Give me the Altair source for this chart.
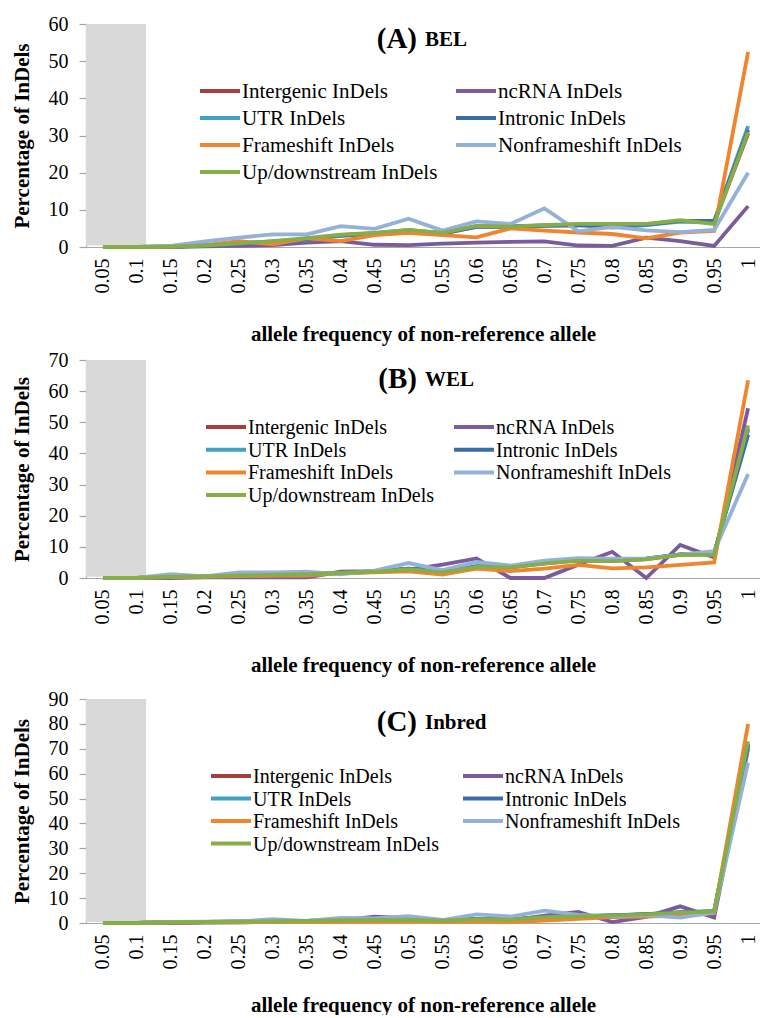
import altair as alt
import pandas as pd

freq_labels = ["0.05", "0.1", "0.15", "0.2", "0.25", "0.3", "0.35", "0.4", "0.45", "0.5",
               "0.55", "0.6", "0.65", "0.7", "0.75", "0.8", "0.85", "0.9", "0.95", "1"]
series_names = ["Intergenic InDels", "ncRNA InDels", "UTR InDels", "Intronic InDels",
                "Frameshift InDels", "Nonframeshift InDels", "Up/downstream InDels"]
series_colors = ["#A5403D", "#7A5C9E", "#41A3BF", "#3B6DA8", "#F0852E", "#93B1D9", "#86AE48"]

# ---- (A) BEL ----
bel_intergenic = [0, 0, 0.1, 0.4, 0.9, 1.5, 2.2, 3.2, 3.7, 4.5, 3.7, 5.6, 5.4, 5.8, 6.0, 6.0, 6.1, 7.0, 6.6, 30.5]
bel_ncrna = [0, 0, 0, 0.2, 0.3, 0.5, 1.2, 1.6, 0.6, 0.5, 0.9, 1.2, 1.4, 1.5, 0.4, 0.3, 2.5, 1.6, 0.3, 11]
bel_utr = [0, 0, 0.1, 0.4, 0.9, 1.4, 2.0, 3.0, 3.5, 4.3, 3.6, 5.5, 5.6, 5.8, 5.9, 5.2, 5.9, 6.8, 6.9, 32.5]
bel_intronic = [0, 0, 0.1, 0.4, 0.9, 1.4, 2.1, 3.1, 3.6, 4.4, 3.6, 5.4, 5.5, 5.7, 5.8, 5.8, 6.0, 7.0, 7.0, 31.5]
bel_frameshift = [0, 0, 0.1, 0.5, 1.6, 0.7, 2.4, 1.6, 3.2, 3.8, 3.2, 2.6, 5.0, 4.4, 3.9, 3.5, 2.3, 3.9, 4.3, 52.5]
bel_nonframeshift = [0, 0, 0.3, 1.5, 2.5, 3.4, 3.4, 5.6, 4.9, 7.6, 4.4, 6.9, 6.2, 10.4, 4.2, 5.4, 4.5, 4.0, 4.6, 20]
bel_updown = [0, 0, 0.1, 0.4, 1.0, 1.6, 2.4, 3.3, 3.8, 4.6, 3.8, 5.7, 5.5, 5.9, 6.2, 6.2, 6.2, 7.2, 6.2, 31]

# ---- (B) WEL ----
wel_intergenic = [0, 0, 0.4, 0.5, 0.8, 1.0, 1.2, 1.6, 2.0, 2.9, 1.9, 3.6, 3.4, 4.7, 5.7, 5.5, 6.1, 7.5, 7.6, 48]
wel_ncrna = [0, 0, 0, 0.2, 0.2, 0.2, 0.2, 2.0, 2.2, 2.7, 4.3, 6.3, 0, 0, 4.3, 8.4, 0, 10.6, 6.6, 54.5]
wel_utr = [0, 0, 0.4, 0.5, 0.8, 1.0, 1.2, 1.6, 2.1, 3.0, 2.0, 3.8, 3.5, 4.8, 5.8, 5.6, 6.2, 7.6, 7.8, 47.5]
wel_intronic = [0, 0, 0.4, 0.5, 0.8, 1.0, 1.3, 1.7, 2.1, 3.0, 2.0, 3.7, 3.6, 4.9, 5.9, 5.7, 6.2, 7.6, 8.0, 46]
wel_frameshift = [0, 0, 0.3, 0.4, 0.6, 0.7, 0.8, 1.6, 1.8, 2.1, 1.1, 3.0, 2.2, 3.0, 4.2, 3.1, 3.4, 4.2, 5.0, 63.5]
wel_nonframeshift = [0, 0, 1.2, 0.5, 1.8, 1.8, 2.0, 1.2, 2.4, 4.8, 2.5, 5.2, 4.0, 5.6, 6.4, 6.2, 6.2, 7.5, 8.6, 33.4]
wel_updown = [0, 0, 0.4, 0.5, 0.8, 1.0, 1.2, 1.6, 2.0, 2.8, 1.8, 3.6, 3.4, 4.6, 5.6, 5.4, 6.0, 7.4, 7.4, 49]

# ---- (C) Inbred ----
inb_intergenic = [0, 0, 0.3, 0.4, 0.5, 0.7, 0.8, 1.1, 1.2, 1.3, 0.9, 1.5, 1.3, 2.4, 2.7, 3.0, 3.5, 4.2, 4.6, 72]
inb_ncrna = [0, 0, 0, 0.2, 0.3, 0.4, 0.5, 1.0, 2.5, 2.0, 0.8, 1.5, 1.0, 3.0, 4.4, 0.4, 2.5, 6.7, 2.2, 70]
inb_utr = [0, 0, 0.3, 0.4, 0.5, 0.7, 0.8, 1.1, 1.2, 1.4, 1.0, 1.6, 1.4, 2.5, 2.8, 3.1, 3.6, 4.3, 4.8, 71]
inb_intronic = [0, 0, 0.3, 0.4, 0.5, 0.7, 0.8, 1.1, 1.2, 1.4, 1.0, 1.6, 1.4, 2.5, 2.8, 3.1, 3.6, 4.3, 4.8, 71.5]
inb_frameshift = [0, 0, 0.2, 0.3, 0.3, 0.4, 0.4, 0.5, 0.5, 0.7, 0.5, 0.5, 0.4, 1.0, 1.7, 2.4, 2.6, 3.0, 4.0, 80]
inb_nonframeshift = [0, 0, 0.4, 0.5, 0.6, 1.5, 0.8, 2.0, 1.8, 2.7, 1.2, 3.5, 2.6, 5.0, 3.3, 2.7, 3.2, 2.2, 4.2, 64.5]
inb_updown = [0, 0, 0.3, 0.4, 0.5, 0.7, 0.8, 1.1, 1.2, 1.3, 0.9, 1.5, 1.3, 2.4, 2.7, 3.0, 3.5, 4.2, 4.6, 73]

FONT = "Liberation Serif"
PLOT_W = 674
X_DOMAIN = [0.5, 20.35]
SHADE_END = 2.27  # shaded region covers the 0.05 and 0.1 classes

label_expr = "[" + ",".join("'%s'" % s for s in freq_labels) + "][datum.value - 1]"


def build_df(lists):
    rows = []
    for name, vals in zip(series_names, lists):
        for i, v in enumerate(vals):
            rows.append({"series": name, "idx": i + 1, "value": v})
    return pd.DataFrame(rows)


def legend_layers(x0, col_dx, y0, step, fsize):
    layers = []
    for k, (name, col) in enumerate(zip(series_names, series_colors)):
        r, c = divmod(k, 2)
        sx = x0 + c * col_dx
        sy = y0 + r * step
        one = pd.DataFrame({"s": [name]})
        layers.append(alt.Chart(one).mark_rule(color=col, strokeWidth=4).encode(
            x=alt.value(sx), x2=alt.value(sx + 40), y=alt.value(sy)))
        layers.append(alt.Chart(one).mark_text(
            font=FONT, fontSize=fsize, align="left", baseline="middle", color="black", dy=1).encode(
            text="s:N", x=alt.value(sx + 42), y=alt.value(sy)))
    return layers


def panel(lists, ymax, letter, name, height, legend_args, title_y, xtitle_pad):
    df = build_df(lists)
    xscale = alt.Scale(domain=X_DOMAIN, nice=False, zero=False)
    yscale = alt.Scale(domain=[0, ymax], nice=False)
    xaxis = alt.Axis(values=list(range(1, 21)), labelExpr=label_expr, labelAngle=270,
                     title="allele frequency of non-reference allele", grid=False, ticks=False,
                     labelPadding=11, titlePadding=xtitle_pad)
    yaxis = alt.Axis(values=list(range(0, ymax + 1, 10)), title="Percentage of InDels", grid=False,
                     tickSize=7, labelPadding=11, titlePadding=16)

    shade = alt.Chart(pd.DataFrame({"x0": [0.5], "x1": [SHADE_END], "y0": [0.4], "y1": [ymax]})).mark_rect(
        color="#D9D9D9").encode(
        x=alt.X("x0:Q", scale=xscale, axis=xaxis),
        x2="x1:Q",
        y=alt.Y("y0:Q", scale=yscale, axis=yaxis),
        y2="y1:Q",
    )

    lines = alt.Chart(df).mark_line(strokeWidth=3.8).encode(
        x=alt.X("idx:Q", scale=xscale, axis=xaxis),
        y=alt.Y("value:Q", scale=yscale, axis=yaxis),
        color=alt.Color("series:N", sort=series_names,
                        scale=alt.Scale(domain=series_names, range=series_colors), legend=None),
        detail="series:N",
    )

    t1 = alt.Chart(pd.DataFrame({"t": ["(%s)" % letter]})).mark_text(
        font=FONT, fontSize=29, fontWeight="bold", align="right", baseline="middle", color="black").encode(
        text="t:N", x=alt.value(331), y=alt.value(title_y))
    t2 = alt.Chart(pd.DataFrame({"t": [name]})).mark_text(
        font=FONT, fontSize=21, fontWeight="bold", align="left", baseline="middle", color="black").encode(
        text="t:N", x=alt.value(339), y=alt.value(title_y + 1))

    return alt.layer(shade, lines, t1, t2, *legend_layers(*legend_args)).properties(width=PLOT_W, height=height)


pA = panel([bel_intergenic, bel_ncrna, bel_utr, bel_intronic, bel_frameshift, bel_nonframeshift, bel_updown],
           60, "A", "BEL", 223, (114, 256, 67, 27, 21), 15, 30)
pB = panel([wel_intergenic, wel_ncrna, wel_utr, wel_intronic, wel_frameshift, wel_nonframeshift, wel_updown],
           70, "B", "WEL", 218, (120, 248, 67, 22.7, 20), 19, 30)
pC = panel([inb_intergenic, inb_ncrna, inb_utr, inb_intronic, inb_frameshift, inb_nonframeshift, inb_updown],
           90, "C", "Inbred", 224, (125, 252, 77, 22.5, 20), 23, 25)

top = alt.vconcat(pA, pB, spacing=6)
chart = alt.vconcat(top, pC, spacing=14).properties(
    padding={"left": 11, "top": 14, "right": 0, "bottom": 0}, background="white"
).configure_view(strokeWidth=0).configure_axis(
    labelFont=FONT, labelFontSize=20, labelColor="black",
    titleFont=FONT, titleFontSize=21, titleFontWeight="bold", titleColor="black",
    domainColor="#A6A6A6", domainWidth=1.2, tickColor="#A6A6A6", tickWidth=1.2,
)

chart.save("out.html", embed_options={"renderer": "svg", "actions": False})
